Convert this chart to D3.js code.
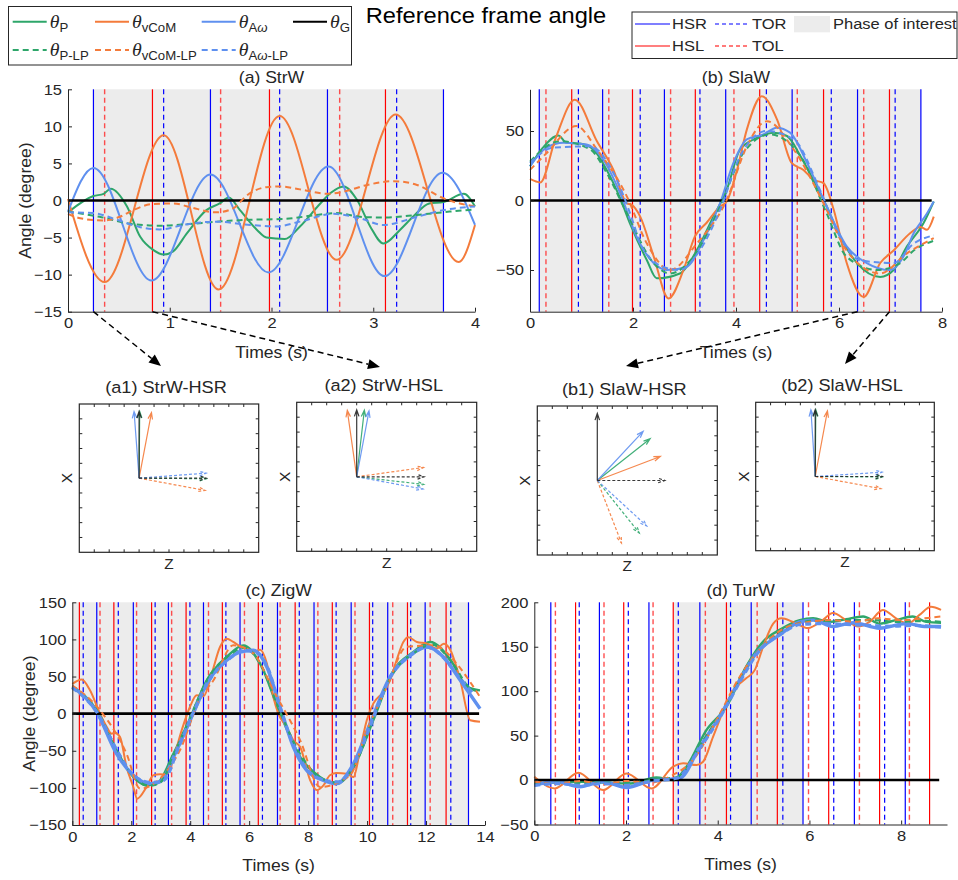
<!DOCTYPE html>
<html>
<head>
<meta charset="utf-8">
<script src="https://cdn.jsdelivr.net/npm/d3@7"></script>
<style>
body { margin: 0; background: #fff; }
svg text { font-family: "Liberation Sans", Arial, sans-serif; fill: #262626; }
</style>
</head>
<body>
<div id="chart"></div>
<script>
// ---------- data ----------
// (a) StrW : gait events (s)
var strwHSR = [0.25, 1.40, 2.55, 3.69];
var strwHSL = [0.83, 1.98, 3.12];
var strwTOR = [0.94, 2.08, 3.23];
var strwTOL = [0.36, 1.50, 2.67];
var strwPhase = [0.25, 3.69];
// (a) StrW : angles [time, degree]
var strwP = [[0,-1.6],[0.25,0.6],[0.35,0.9],[0.42,1.6],[0.58,-0.8],[0.71,-4.9],[0.84,-6.7],[0.94,-7.3],[1.03,-6.9],[1.17,-4.4],[1.36,-1.3],[1.49,-0.4],[1.58,0.4],[1.69,-1.3],[1.86,-4.0],[1.95,-5.0],[2.13,-5.2],[2.28,-3.5],[2.48,-0.4],[2.58,1.0],[2.71,1.9],[2.84,0.1],[2.97,-3.5],[3.10,-5.8],[3.26,-4.0],[3.39,-2.2],[3.55,-0.4],[3.69,-0.2],[3.89,0.9],[4.0,-0.8]];
var strwV = [[0,0.2],[0.36,-11],[0.94,8.8],[1.48,-12],[2.08,11.4],[2.64,-8],[3.22,11.6],[3.84,-8.3],[4,-3.3]];
var strwA = [[0,-1.5],[0.25,4.4],[0.82,-10.8],[1.40,3.5],[1.97,-9.7],[2.56,4.6],[3.11,-10.2],[3.68,3.75],[4,-3.3]];
var strwG = [[0,0],[4,0]];
var strwPLP = [[0,-1.5],[0.31,-2.2],[0.64,-3.2],[0.90,-3.4],[1.17,-3.2],[1.46,-2.85],[1.79,-2.6],[2.12,-2.5],[2.44,-1.95],[2.64,-1.7],[2.87,-2.2],[3.10,-2.3],[3.43,-1.95],[3.75,-1.5],[4.0,-1.2]];
var strwVLP = [[0,-1.8],[0.12,-2.4],[0.35,-2.7],[0.51,-2.2],[0.64,-1.3],[0.82,-0.5],[1.04,-0.4],[1.20,-0.9],[1.46,-1.6],[1.62,-1.1],[1.76,0.7],[1.95,1.8],[2.08,1.9],[2.28,1.5],[2.56,0.9],[2.71,1.2],[2.94,2.1],[3.20,2.6],[3.43,2.1],[3.69,0.3],[3.85,-0.4],[4.0,-0.8]];
var strwALP = [[0,-1.6],[0.25,-1.7],[0.48,-2.6],[0.71,-3.6],[0.90,-3.9],[1.17,-3.2],[1.46,-2.85],[1.79,-3.3],[2.05,-3.5],[2.28,-2.85],[2.61,-1.8],[2.87,-2.4],[3.10,-3.3],[3.43,-2.2],[3.69,-1.3],[4.0,-0.8]];

// (b) SlaW
var slawHSR = [0.18, 1.41, 2.61, 3.80, 5.09, 6.36, 7.59];
var slawHSL = [0.81, 1.99, 3.21, 4.46, 5.70, 6.98];
var slawTOR = [0.94, 2.14, 3.30, 4.59, 5.85, 7.09];
var slawTOL = [0.31, 1.53, 2.73, 3.96, 5.19, 6.48];
var slawPhase = [0.18, 7.59];
var slawP = [[0,24.6],[0.25,38],[0.55,46.8],[0.71,41.5],[0.97,41],[1.23,36.7],[1.49,22],[1.75,1.7],[1.94,-16.4],[2.27,-43],[2.46,-56],[2.91,-52.5],[3.24,-35.7],[3.56,-11.6],[3.82,7.7],[4.08,36.7],[4.4,45],[4.73,48.8],[4.99,46.4],[5.25,32],[5.5,15],[5.76,-4.3],[6.02,-26],[6.35,-45],[6.8,-55],[7.06,-50],[7.32,-33],[7.64,-16.4],[7.84,-0.7]];
var slawV = [[0,15.5],[0.2,13],[0.5,45],[0.87,72.5],[1.3,42.6],[1.62,22],[1.88,-2],[1.97,-3],[2.14,-11.6],[2.4,-40],[2.69,-70.5],[2.98,-50],[3.2,-26],[3.43,-16],[3.69,-4.3],[3.82,-0.7],[4.02,22],[4.21,51],[4.5,75],[4.8,58],[5.08,27],[5.31,22],[5.5,15],[5.7,12.5],[5.9,-7],[6.15,-45],[6.48,-69.5],[6.8,-45],[7.06,-36],[7.38,-23.6],[7.58,-19],[7.71,-21],[7.84,-11.6]];
var slawA = [[0,24.6],[0.32,38],[0.65,41.5],[1.1,40.3],[1.42,29.5],[1.75,5.3],[2.07,-26],[2.4,-45],[2.66,-50],[3.04,-47.8],[3.37,-28.4],[3.69,-2],[3.95,27],[4.21,44],[4.53,47.5],[4.79,52.4],[5.05,48.8],[5.38,27],[5.76,-4.3],[6.15,-33],[6.54,-45],[6.99,-50],[7.25,-40.5],[7.45,-23.6],[7.71,-9.2],[7.84,-0.7]];
var slawG = [[0,0],[7.8,0]];
var slawPLP = [[0,28],[0.58,42.7],[1.17,36.7],[1.49,19.8],[1.88,-9.2],[2.4,-45],[2.72,-52.5],[3.17,-40.5],[3.69,-4.3],[4.14,34],[4.66,47.5],[5.25,32],[5.76,-9.2],[6.15,-40.5],[6.74,-50],[7.19,-45],[7.45,-36],[7.84,-29]];
var slawVLP = [[0,22],[0.32,34],[0.9,53.6],[1.3,36.7],[1.88,3],[2.27,-31],[2.72,-50],[3.24,-31],[3.82,0.5],[4.21,39],[4.6,57],[5.12,36.7],[5.7,-2],[6.15,-36],[6.8,-52.5],[7.32,-38],[7.84,-27]];
var slawALP = [[0,27],[0.45,38],[1.17,39],[1.62,19.8],[2.01,-16.4],[2.14,-31],[2.59,-47.8],[2.9,-50],[3.3,-35.7],[3.69,-6.8],[4.08,32],[4.6,50],[5.12,44],[5.63,7.7],[6.02,-26],[6.41,-43],[7.06,-45],[7.45,-31],[7.84,-25]];

// (c) ZigW
var zigwHSR = [0.83, 2.07, 3.26, 4.45, 5.69, 6.96, 8.20, 9.46, 10.70, 11.97, 13.44];
var zigwHSL = [0.24, 1.41, 2.69, 3.86, 5.09, 6.31, 7.56, 8.82, 10.08, 11.37, 12.68];
var zigwTOR = [0.37, 1.56, 2.81, 3.99, 5.21, 6.45, 7.70, 8.95, 10.19, 11.48, 12.84];
var zigwTOL = [0.94, 2.18, 3.37, 4.62, 5.84, 7.05, 8.33, 9.59, 10.87, 12.14];
var zigwPhase = [0, 13.44];
var zigwP = [[0,36.8],[0.83,4.5],[1.5,-49.4],[2.07,-85.4],[2.52,-96.6],[2.86,-94.3],[3.43,-54],[3.99,-6.7],[4.56,45],[5.24,76.4],[5.8,92],[6.37,67.4],[7.05,0],[7.73,-58.4],[8.4,-85.4],[8.97,-94.3],[9.54,-71.9],[10.21,-9],[10.9,58.4],[11.57,83],[12.14,96.6],[12.84,71.9],[13.4,36],[13.83,31.4]];
var zigwV = [[0,40],[0.32,46],[0.6,31.4],[0.94,0],[1.17,-18],[1.33,-27],[1.45,-26],[1.62,-31.4],[1.84,-71.9],[2.07,-98.8],[2.2,-114.6],[2.52,-98.8],[2.75,-83],[2.97,-81.8],[3.2,-82],[3.43,-60.6],[3.71,-22.5],[3.99,9],[4.22,24.7],[4.45,23.4],[4.73,53.9],[5.01,89.8],[5.24,101],[5.46,96.6],[5.69,90.7],[5.92,87.6],[6.14,83],[6.37,86],[6.6,67.4],[6.82,22.5],[6.99,0],[7.27,-18],[7.5,-36],[7.73,-45],[8.07,-89.8],[8.29,-103],[8.52,-96.6],[8.74,-83],[8.97,-80],[9.31,-80.9],[9.54,-85.4],[9.76,-49.4],[9.99,-9],[10.21,13.5],[10.55,29.2],[10.78,45],[11.0,71.9],[11.23,96.6],[11.4,103],[11.69,96.6],[12.03,94.3],[12.36,87.6],[12.6,94.3],[12.8,87.6],[13.16,45],[13.5,-9],[13.83,-11]];
var zigwA = [[0,36],[0.83,2.2],[1.5,-54],[2.07,-83],[2.63,-94.3],[2.97,-92],[3.54,-49.4],[4.1,0],[4.56,40.4],[5.24,71.9],[5.69,83],[6.14,85.4],[6.6,62.9],[7.05,9],[7.5,-45],[7.95,-76.4],[8.52,-89.8],[8.97,-94.3],[9.54,-67.4],[10.1,-13.5],[10.78,49.4],[11.46,78.6],[12.03,89.8],[12.59,76.4],[13.16,45],[13.83,6.7]];
var zigwG = [[0,0],[13.8,0]];
var zigwPLP = [[0,35],[0.85,3],[1.55,-52],[2.1,-86],[2.6,-97],[3.0,-92],[3.5,-50],[4.0,-5],[4.6,47],[5.3,78],[5.85,89],[6.4,65],[7.05,2],[7.75,-56],[8.4,-86],[9.0,-93],[9.6,-68],[10.2,-7],[10.9,56],[11.6,82],[12.2,93],[12.9,68],[13.4,38],[13.83,29]];
var zigwVLP = [[0,38],[0.94,4.5],[1.84,-54],[2.3,-101],[2.97,-87.6],[3.65,-49.4],[4.33,20.2],[4.79,45],[5.46,92],[6.14,81],[6.82,31.4],[7.73,-36],[8.4,-98.8],[9.42,-83],[9.99,-22.5],[10.67,36],[11.34,90],[12.25,92],[13.04,67.4],[13.38,49.4],[13.83,22.5]];
var zigwALP = [[0,35],[0.85,1],[1.55,-52],[2.1,-84],[2.7,-93],[3.1,-90],[3.6,-46],[4.1,1],[4.6,42],[5.3,73],[5.8,85],[6.2,83],[6.65,60],[7.05,8],[7.55,-46],[8.0,-77],[8.6,-90],[9.0,-92],[9.6,-65],[10.15,-12],[10.8,50],[11.5,79],[12.05,90],[12.6,75],[13.1,50],[13.6,27]];

// (d) TurW
var turwHSR = [0.36, 1.42, 2.50, 3.61, 4.73, 5.86, 6.98, 8.09];
var turwHSL = [0.90, 1.95, 3.03, 4.19, 5.30, 6.42, 7.53, 8.62];
var turwTOR = [0.98, 2.05, 3.14, 4.28, 5.42, 6.53, 7.64];
var turwTOL = [0.46, 1.52, 2.59, 3.73, 4.86, 5.98, 7.09, 8.18];
var turwPhase = [3.03, 5.86];
var turwP = [[0,-3.8],[1.0,-1.9],[2.1,-3.8],[2.66,3],[3.03,0],[3.32,15],[3.75,56],[4.19,82.6],[4.62,127.6],[4.99,155.8],[5.35,169],[5.79,180],[6.08,182],[6.44,178],[6.8,181],[7.17,184],[7.53,176],[7.89,180],[8.25,184],[8.55,178],[8.87,177]];
var turwV = [[0,3.8],[0.45,-9.4],[0.96,8.3],[1.5,-11.3],[2.01,7.5],[2.56,-9.4],[3.03,15],[3.25,18.8],[3.54,16.9],[3.68,20.6],[3.9,48.8],[4.19,86],[4.41,105],[4.62,114.5],[4.81,124],[4.99,150],[5.21,176],[5.39,182],[5.64,178],[5.97,171],[6.29,180],[6.51,188],[6.8,180],[7.06,172.7],[7.31,178],[7.6,191.4],[7.89,182],[8.15,176],[8.4,185.8],[8.65,195],[8.87,191.4]];
var turwA = [[0,-5.6],[0.49,-1.9],[0.99,-7.5],[1.5,-1.9],[2.01,-8.3],[2.59,0],[3.17,1.9],[3.61,37.5],[4.04,71.3],[4.48,112.6],[4.84,142.6],[5.35,163.3],[5.79,178],[6.08,180],[6.51,172.7],[6.95,177],[7.53,170.8],[8.11,176],[8.55,172.7],[8.87,172.7]];
var turwG = [[0,0],[8.83,0]];
var turwPLP = [[0,-4],[1.0,-3],[2.0,-3],[2.7,1],[3.1,3],[3.6,38],[4.1,78],[4.6,125],[5.0,152],[5.4,168],[5.9,178],[6.4,180],[6.9,180],[7.4,180],[7.9,178],[8.4,179],[8.87,178]];
var turwVLP = [[0,-2],[0.5,-4],[1.0,-1],[1.5,-5],[2.0,-1],[2.5,-3],[3.0,5],[3.5,25],[4.0,70],[4.5,118],[5.0,152],[5.5,172],[6.0,178],[6.5,180],[7.0,178],[7.5,182],[8.0,180],[8.5,182],[8.87,184]];
var turwALP = [[0,-6],[0.5,-4],[1.0,-6],[1.5,-4],[2.0,-6],[2.6,-1],[3.1,2],[3.6,35],[4.1,75],[4.5,112],[4.9,145],[5.4,165],[5.8,175],[6.3,176],[6.8,175],[7.3,174],[7.8,173],[8.3,174],[8.87,172]];

// tick values
var strwXTicks = [0, 1, 2, 3, 4], strwYTicks = [-15, -10, -5, 0, 5, 10, 15];
var slawXTicks = [0, 2, 4, 6, 8], slawYTicks = [-50, 0, 50];
var zigwXTicks = [0, 2, 4, 6, 8, 10, 12, 14], zigwYTicks = [-150, -100, -50, 0, 50, 100, 150];
var turwXTicks = [0, 2, 4, 6, 8], turwYTicks = [-50, 0, 50, 100, 150, 200];

// frame arrows of the small panels: heading angle (deg, clockwise from X) for P, vCoM, Aw
var a1Angles = [0.5, 10.6, -4.3];
var a2Angles = [6.5, -8, 10.5];
var b1Angles = [51.5, 69, 42.8];
var b2Angles = [0.5, 10.5, -3.7];
var insetZTicks = [-0.3, -0.2, -0.1, 0, 0.1, 0.2, 0.3, 0.4, 0.5, 0.6, 0.7];
var insetXTicks = [-0.4, -0.3, -0.2, -0.1, 0, 0.1, 0.2, 0.3, 0.4];

// ---------- styles ----------
var cP = "#2ea66a", cV = "#f47b3b", cA = "#5f90ef";

var svg = d3.select("#chart").append("svg")
    .attr("width", 958)
    .attr("height", 880);

function makeSeries(P, V, A, G, PLP, VLP, ALP, wide) {
    var w = wide ? 2.4 : 2;
    return [
        { data: P, color: cP, width: w },
        { data: V, color: cV, width: 2 },
        { data: A, color: cA, width: wide ? 3.4 : 2 },
        { data: G, color: "#000", width: 2.6 },
        { data: PLP, color: cP, width: w, dash: "6,4" },
        { data: VLP, color: cV, width: 2, dash: "6,4" },
        { data: ALP, color: cA, width: wide ? 3.2 : 2, dash: "6,4" }
    ];
}

var panels = [
    { title: "(a) StrW", left: 68, right: 475, top: 89.3, bottom: 311.7, xDomain: [0, 4], yDomain: [-15, 15],
      xTicks: strwXTicks, yTicks: strwYTicks, ylabel: true, phase: strwPhase,
      hsr: strwHSR, hsl: strwHSL, tor: strwTOR, tol: strwTOL,
      series: makeSeries(strwP, strwV, strwA, strwG, strwPLP, strwVLP, strwALP, false) },
    { title: "(b) SlaW", left: 530, right: 942, top: 89.3, bottom: 311.7, xDomain: [0, 8], yDomain: [-80, 80],
      xTicks: slawXTicks, yTicks: slawYTicks, ylabel: false, phase: slawPhase,
      hsr: slawHSR, hsl: slawHSL, tor: slawTOR, tol: slawTOL,
      series: makeSeries(slawP, slawV, slawA, slawG, slawPLP, slawVLP, slawALP, false) },
    { title: "(c) ZigW", left: 72.3, right: 485, top: 602.3, bottom: 825, xDomain: [0, 14], yDomain: [-150, 150],
      xTicks: zigwXTicks, yTicks: zigwYTicks, ylabel: true, phase: zigwPhase,
      hsr: zigwHSR, hsl: zigwHSL, tor: zigwTOR, tol: zigwTOL,
      series: makeSeries(zigwP, zigwV, zigwA, zigwG, zigwPLP, zigwVLP, zigwALP, true) },
    { title: "(d) TurW", left: 534.3, right: 947, top: 602.3, bottom: 824.5, xDomain: [0, 9], yDomain: [-50, 200],
      xTicks: turwXTicks, yTicks: turwYTicks, ylabel: false, phase: turwPhase,
      hsr: turwHSR, hsl: turwHSL, tor: turwTOR, tol: turwTOL,
      series: makeSeries(turwP, turwV, turwA, turwG, turwPLP, turwVLP, turwALP, true) }
];

var eventStyles = [
    { key: "hsr", color: "#0000ff", width: 1.2, dash: null, opacity: 1 },
    { key: "hsl", color: "#ff0000", width: 1.2, dash: null, opacity: 1 },
    { key: "tor", color: "#0000ff", width: 1.2, dash: "5,3.5", opacity: 1 },
    { key: "tol", color: "#ff3030", width: 1.4, dash: "5,3.5", opacity: 0.85 }
];

var tickFmt = d3.format("~g");

// draw one time-series panel, returns its x scale
function drawPanel(p) {
    var x = d3.scaleLinear().domain(p.xDomain).range([p.left, p.right]);
    var y = d3.scaleLinear().domain(p.yDomain).range([p.bottom, p.top]);
    var g = svg.append("g");

    // phase of interest
    g.append("rect")
        .attr("x", x(p.phase[0]))
        .attr("y", p.top)
        .attr("width", x(p.phase[1]) - x(p.phase[0]))
        .attr("height", p.bottom - p.top)
        .attr("fill", "#ececec");

    // gait events
    eventStyles.forEach(function (e) {
        g.selectAll(null)
            .data(p[e.key])
            .enter()
            .append("line")
            .attr("x1", function (d) { return x(d); })
            .attr("x2", function (d) { return x(d); })
            .attr("y1", p.top)
            .attr("y2", p.bottom)
            .attr("stroke", e.color)
            .attr("stroke-width", e.width)
            .attr("stroke-opacity", e.opacity)
            .attr("stroke-dasharray", e.dash);
    });

    // angle curves
    var line = d3.line()
        .x(function (d) { return x(d[0]); })
        .y(function (d) { return y(d[1]); })
        .curve(d3.curveMonotoneX);
    p.series.forEach(function (s) {
        g.append("path")
            .datum(s.data)
            .attr("d", line)
            .attr("fill", "none")
            .attr("stroke", s.color)
            .attr("stroke-width", s.width)
            .attr("stroke-dasharray", s.dash || null)
            .attr("stroke-linejoin", "round");
    });

    // axes (ticks inward, box off)
    g.append("g")
        .attr("transform", "translate(0," + p.bottom + ")")
        .call(d3.axisBottom(x).tickValues(p.xTicks).tickFormat(tickFmt).tickSizeInner(-4).tickSizeOuter(0).tickPadding(6))
        .attr("font-size", 15)
        .style("color", "#262626");
    g.append("g")
        .attr("transform", "translate(" + p.left + ",0)")
        .call(d3.axisLeft(y).tickValues(p.yTicks).tickFormat(tickFmt).tickSizeInner(-4).tickSizeOuter(0).tickPadding(6))
        .attr("font-size", 15)
        .style("color", "#262626");

    g.append("text")
        .attr("x", (p.left + p.right) / 2)
        .attr("y", p.top - 6)
        .attr("text-anchor", "middle")
        .style("font-size", "16px")
        .text(p.title);

    g.append("text")
        .attr("x", (p.left + p.right) / 2)
        .attr("y", p.bottom + 46)
        .attr("text-anchor", "middle")
        .style("font-size", "16px")
        .text("Times (s)");

    if (p.ylabel) {
        g.append("text")
            .attr("transform", "translate(" + (p.left - 43) + "," + ((p.top + p.bottom) / 2) + ") rotate(-90)")
            .attr("text-anchor", "middle")
            .attr("dy", "0.35em")
            .style("font-size", "16px")
            .text("Angle (degree)");
    }
    return x;
}

var xs = panels.map(drawPanel);

// ---------- small frame panels ----------
var insets = [
    { title: "(a1) StrW-HSR", left: 79.3, top: 404, w: 179.4, h: 148.3, angles: a1Angles },
    { title: "(a2) StrW-HSL", left: 296.7, top: 402.3, w: 180, h: 149, angles: a2Angles },
    { title: "(b1) SlaW-HSR", left: 537.3, top: 406, w: 180, h: 149, angles: b1Angles },
    { title: "(b2) SlaW-HSL", left: 755.7, top: 402.3, w: 178.6, h: 148.4, angles: b2Angles }
];

function arrow(g, zs, xsc, phi, len, color, dash) {
    var r = phi * Math.PI / 180;
    var x0 = zs(0), y0 = xsc(0);
    var x1 = zs(len * Math.sin(r)), y1 = xsc(len * Math.cos(r));
    var ang = Math.atan2(y1 - y0, x1 - x0);
    var hl = 7, ha = 0.33;
    var p = d3.path();
    p.moveTo(x0, y0);
    p.lineTo(x1, y1);
    p.moveTo(x1 - hl * Math.cos(ang - ha), y1 - hl * Math.sin(ang - ha));
    p.lineTo(x1, y1);
    p.lineTo(x1 - hl * Math.cos(ang + ha), y1 - hl * Math.sin(ang + ha));
    g.append("path")
        .attr("d", p.toString())
        .attr("fill", "none")
        .attr("stroke", color)
        .attr("stroke-width", 1.2)
        .attr("stroke-opacity", 0.9)
        .attr("stroke-dasharray", dash);
}

insets.forEach(function (b) {
    var zs = d3.scaleLinear().domain([-0.4, 0.8]).range([b.left, b.left + b.w]);
    var xsc = d3.scaleLinear().domain([-0.5, 0.5]).range([b.top + b.h, b.top]);
    var g = svg.append("g");

    g.append("rect")
        .attr("x", b.left).attr("y", b.top)
        .attr("width", b.w).attr("height", b.h)
        .attr("fill", "#fff")
        .attr("stroke", "#262626")
        .attr("stroke-width", 1.2);

    // inward ticks on all four sides
    g.selectAll(null).data(insetZTicks).enter().append("path")
        .attr("d", function (d) {
            return "M" + zs(d) + "," + (b.top + b.h) + "v-3M" + zs(d) + "," + b.top + "v3";
        })
        .attr("stroke", "#262626");
    g.selectAll(null).data(insetXTicks).enter().append("path")
        .attr("d", function (d) {
            return "M" + b.left + "," + xsc(d) + "h3M" + (b.left + b.w) + "," + xsc(d) + "h-3";
        })
        .attr("stroke", "#262626");

    var L = 0.45;
    var cols = [cP, cV, cA];
    b.angles.forEach(function (phi, i) {
        arrow(g, zs, xsc, phi + 90, L, cols[i], "3,2");
        arrow(g, zs, xsc, phi, L, cols[i], null);
    });
    arrow(g, zs, xsc, 90, L, "#222", "3,2");
    arrow(g, zs, xsc, 0, L, "#222", null);

    g.append("text")
        .attr("x", b.left + b.w / 2 - 3)
        .attr("y", b.top - 11)
        .attr("text-anchor", "middle")
        .style("font-size", "16.5px")
        .text(b.title);
    g.append("text")
        .attr("x", b.left + b.w / 2)
        .attr("y", b.top + b.h + 16.5)
        .attr("text-anchor", "middle")
        .style("font-size", "14px")
        .text("Z");
    g.append("text")
        .attr("transform", "translate(" + (b.left - 12) + "," + (b.top + b.h / 2) + ") rotate(-90)")
        .attr("text-anchor", "middle")
        .attr("dy", "0.35em")
        .style("font-size", "14px")
        .text("X");
});

// ---------- dashed connectors from gait events to frame panels ----------
var connectors = [
    { x: xs[0](strwHSR[0]), y: panels[0].bottom, to: [161, 366] },
    { x: xs[0](strwHSL[0]), y: panels[0].bottom, to: [380, 367] },
    { x: xs[1](slawHSR[5]), y: panels[1].bottom, to: [626, 366] },
    { x: xs[1](slawHSL[5]), y: panels[1].bottom, to: [845, 364] }
];
connectors.forEach(function (c) {
    var x1 = c.to[0], y1 = c.to[1];
    var ang = Math.atan2(y1 - c.y, x1 - c.x);
    var hl = 12, hw = 5;
    var bx = x1 - hl * Math.cos(ang), by = y1 - hl * Math.sin(ang);
    svg.append("line")
        .attr("x1", c.x).attr("y1", c.y)
        .attr("x2", bx).attr("y2", by)
        .attr("stroke", "#000")
        .attr("stroke-width", 1.5)
        .attr("stroke-dasharray", "6,4");
    svg.append("path")
        .attr("d", "M" + x1 + "," + y1 +
            "L" + (bx + hw * Math.sin(ang)) + "," + (by - hw * Math.cos(ang)) +
            "L" + (bx - hw * Math.sin(ang)) + "," + (by + hw * Math.cos(ang)) + "Z")
        .attr("fill", "#000");
});

// ---------- title & legends ----------
svg.append("text")
    .attr("x", 486)
    .attr("y", 23)
    .attr("text-anchor", "middle")
    .style("font-size", "21.5px")
    .style("fill", "#000")
    .text("Reference frame angle");

var leg1 = svg.append("g");
leg1.append("rect")
    .attr("x", 8.5).attr("y", 6.5)
    .attr("width", 343).attr("height", 58.5)
    .attr("fill", "#fff")
    .attr("stroke", "#262626");

var legItems = [
    { x: 12.7, row: 0, color: cP, dash: null, sub: [["P", false]] },
    { x: 95, row: 0, color: cV, dash: null, sub: [["vCoM", false]] },
    { x: 201.7, row: 0, color: cA, dash: null, sub: [["A", false], ["ω", true]] },
    { x: 293, row: 0, color: "#000", dash: null, sub: [["G", false]] },
    { x: 12.7, row: 1, color: cP, dash: "6,4", sub: [["P-LP", false]] },
    { x: 95, row: 1, color: cV, dash: "6,4", sub: [["vCoM-LP", false]] },
    { x: 201.7, row: 1, color: cA, dash: "6,4", sub: [["A", false], ["ω", true], ["-LP", false]] }
];
legItems.forEach(function (it) {
    var ly = it.row === 0 ? 21.7 : 50;
    leg1.append("line")
        .attr("x1", it.x).attr("x2", it.x + 34)
        .attr("y1", ly).attr("y2", ly)
        .attr("stroke", it.color)
        .attr("stroke-width", 2)
        .attr("stroke-dasharray", it.dash);
    var t = leg1.append("text")
        .attr("x", it.x + 37)
        .attr("y", ly + 6);
    t.append("tspan")
        .style("font-family", "'Liberation Serif', 'Times New Roman', serif")
        .style("font-style", "italic")
        .style("font-size", "18px")
        .text("θ");
    it.sub.forEach(function (s, j) {
        t.append("tspan")
            .attr("dy", j === 0 ? 4 : 0)
            .style("font-size", "12px")
            .style("font-style", s[1] ? "italic" : "normal")
            .text(s[0]);
    });
});

var leg2 = svg.append("g");
leg2.append("rect")
    .attr("x", 632).attr("y", 12)
    .attr("width", 325).attr("height", 46.5)
    .attr("fill", "#fff")
    .attr("stroke", "#262626");
var leg2Items = [
    { x: 635, y: 24, style: eventStyles[0], label: "HSR" },
    { x: 635, y: 46, style: eventStyles[1], label: "HSL" },
    { x: 715, y: 24, style: eventStyles[2], label: "TOR" },
    { x: 715, y: 46, style: eventStyles[3], label: "TOL" }
];
leg2Items.forEach(function (it) {
    leg2.append("line")
        .attr("x1", it.x).attr("x2", it.x + 35)
        .attr("y1", it.y).attr("y2", it.y)
        .attr("stroke", it.style.color)
        .attr("stroke-width", it.style.width)
        .attr("stroke-opacity", it.style.opacity)
        .attr("stroke-dasharray", it.style.dash ? "4,3" : null);
    leg2.append("text")
        .attr("x", it.x + 37)
        .attr("y", it.y + 5.5)
        .style("font-size", "15px")
        .text(it.label);
});
leg2.append("rect")
    .attr("x", 794).attr("y", 16)
    .attr("width", 36).attr("height", 16.3)
    .attr("fill", "#ececec");
leg2.append("text")
    .attr("x", 833)
    .attr("y", 29.5)
    .style("font-size", "15px")
    .text("Phase of interest");

// the original figure's lettering is slightly wide: stretch text horizontally about its anchor
svg.selectAll("text").each(function () {
    var t = d3.select(this);
    var x0 = +t.attr("x") || 0;
    var tr = t.attr("transform") || "";
    t.attr("transform", tr + " translate(" + x0 + ",0) scale(1.1,1) translate(" + (-x0) + ",0)");
});
</script>
</body>
</html>
